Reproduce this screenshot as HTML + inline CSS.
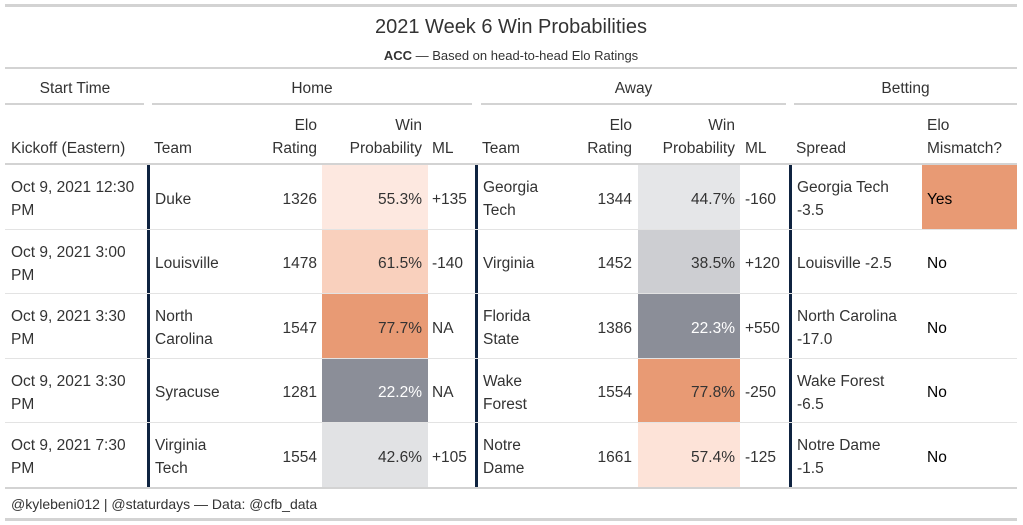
<!DOCTYPE html><html><head><style>
body{margin:0;width:1023px;height:525px;background:#fff;font-family:"Liberation Sans","DejaVu Sans",sans-serif;color:#333;position:relative;overflow:hidden}
div{position:absolute;box-sizing:border-box}
.t{font-size:15.5px;line-height:23px;white-space:nowrap}
.r{text-align:right}
.c{text-align:center}
.hl{height:2px;background:#d3d3d3}
.vl{width:3px;background:#0f2340;top:165px;height:323px}
</style></head><body>
<div class="hl" style="left:5px;width:1012px;top:4px;height:3px"></div>
<div class="c" style="left:5px;width:1012px;top:16px;font-size:20px;color:#333">2021 Week 6 Win Probabilities</div>
<div class="c" style="left:5px;width:1012px;top:48px;font-size:13px;color:#333"><b>ACC</b> — Based on head-to-head Elo Ratings</div>
<div class="hl" style="left:5px;width:1012px;top:67px"></div>
<div class="t c" style="left:5px;width:140px;top:77px">Start Time</div>
<div class="t c" style="left:152px;width:320px;top:77px">Home</div>
<div class="t c" style="left:480px;width:307px;top:77px">Away</div>
<div class="t c" style="left:794px;width:223px;top:77px">Betting</div>
<div class="hl" style="left:5px;width:139px;top:103px"></div>
<div class="hl" style="left:152px;width:320px;top:103px"></div>
<div class="hl" style="left:481px;width:305px;top:103px"></div>
<div class="hl" style="left:794px;width:223px;top:103px"></div>
<div class="t" style="left:11px;top:137px">Kickoff (Eastern)</div>
<div class="t" style="left:154px;top:137px">Team</div>
<div class="t r" style="left:245px;width:72px;top:114px">Elo<br>Rating</div>
<div class="t r" style="left:322px;width:100px;top:114px">Win<br>Probability</div>
<div class="t" style="left:432px;top:137px">ML</div>
<div class="t" style="left:482px;top:137px">Team</div>
<div class="t r" style="left:560px;width:72px;top:114px">Elo<br>Rating</div>
<div class="t r" style="left:638px;width:97px;top:114px">Win<br>Probability</div>
<div class="t" style="left:745px;top:137px">ML</div>
<div class="t" style="left:796px;top:137px">Spread</div>
<div class="t" style="left:927px;top:114px">Elo<br>Mismatch?</div>
<div class="hl" style="left:5px;width:1012px;top:163px"></div>
<div id="rows"></div>
<div class="hl" style="left:5px;width:1012px;top:229px;height:1px;background:#e3e3e3"></div>
<div class="hl" style="left:5px;width:1012px;top:293px;height:1px;background:#e3e3e3"></div>
<div class="hl" style="left:5px;width:1012px;top:358px;height:1px;background:#e3e3e3"></div>
<div class="hl" style="left:5px;width:1012px;top:422px;height:1px;background:#e3e3e3"></div>
<div class="hl" style="left:5px;width:1012px;top:487px"></div>
<div style="left:11px;top:496px;font-size:14px">@kylebeni012 | @staturdays — Data: @cfb_data</div>
<div class="hl" style="left:5px;width:1012px;top:518px;height:3px"></div>
<script>
var R=[
["Oct 9, 2021 12:30<br>PM","Duke","1326","55.3%","#fde8e0","#333","+135","Georgia<br>Tech","1344","44.7%","#e5e6e8","#333","-160","Georgia Tech<br>-3.5","Yes","#e89a74"],
["Oct 9, 2021 3:00<br>PM","Louisville","1478","61.5%","#f9d0bd","#333","-140","Virginia","1452","38.5%","#cdced2","#333","+120","Louisville -2.5","No",""],
["Oct 9, 2021 3:30<br>PM","North<br>Carolina","1547","77.7%","#e89a74","#333","NA","Florida<br>State","1386","22.3%","#8b8e98","#fff","+550","North Carolina<br>-17.0","No",""],
["Oct 9, 2021 3:30<br>PM","Syracuse","1281","22.2%","#8b8e98","#fff","NA","Wake<br>Forest","1554","77.8%","#e89a74","#333","-250","Wake Forest<br>-6.5","No",""],
["Oct 9, 2021 7:30<br>PM","Virginia<br>Tech","1554","42.6%","#e1e2e4","#333","+105","Notre<br>Dame","1661","57.4%","#fde3d8","#333","-125","Notre Dame<br>-1.5","No",""]];
var h="";
R.forEach(function(r,i){var y=165+i*64.5,m=y+34;
function cell(x,w,txt,cls,lines){var top=m-(lines*23)/2;return '<div class="t '+(cls||'')+'" style="left:'+x+'px;width:'+w+'px;top:'+top+'px">'+txt+'</div>';}
function n(s){return s.indexOf('<br>')>=0?2:1}
h+='<div style="left:322px;width:106px;top:'+y+'px;height:64px;background:'+r[4]+'"></div>';
h+='<div style="left:638px;width:102px;top:'+y+'px;height:64px;background:'+r[10]+'"></div>';
if(r[15])h+='<div style="left:922px;width:95px;top:'+y+'px;height:64px;background:'+r[15]+'"></div>';
h+=cell(11,135,r[0],'',2)+cell(155,90,r[1],'',n(r[1]))+cell(245,72,r[2],'r',1);
h+='<div class="t r" style="left:322px;width:100px;top:'+(m-11.5)+'px;color:'+r[5]+'">'+r[3]+'</div>';
h+=cell(432,45,r[6],'',1)+cell(483,75,r[7],'',n(r[7]))+cell(560,72,r[8],'r',1);
h+='<div class="t r" style="left:638px;width:97px;top:'+(m-11.5)+'px;color:'+r[11]+'">'+r[9]+'</div>';
h+=cell(745,45,r[12],'',1)+cell(797,125,r[13],'',n(r[13]))+'<div class="t" style="left:927px;top:'+(m-11.5)+'px;color:#000">'+r[14]+'</div>';
});
h+='<div class="vl" style="left:147px"></div><div class="vl" style="left:475px"></div><div class="vl" style="left:789px"></div>';
document.getElementById('rows').outerHTML=h;
</script>
</body></html>
